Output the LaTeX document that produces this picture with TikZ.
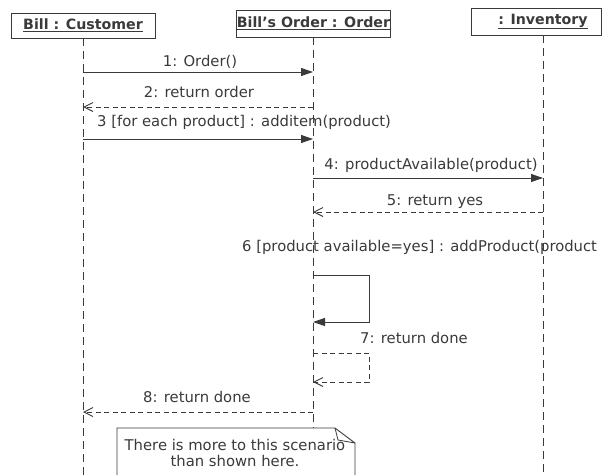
\documentclass[tikz,border=0pt]{standalone}
\usepackage{fontspec}
\setmainfont{DejaVu Sans}
\usetikzlibrary{arrows.meta}
\definecolor{ink}{HTML}{3A3A3A}
\begin{document}
\begin{tikzpicture}[x=1pt,y=-1pt,
  head/.style={draw=ink, line width=0.9pt, inner sep=0pt, text=ink,
    font=\bfseries\fontsize{14.2}{16}\selectfont},
  life/.style={draw=ink, line width=0.9pt, dash pattern=on 8pt off 5pt},
  call/.style={draw=ink, line width=0.9pt, -{Triangle[length=12pt,width=8pt]}},
  ret/.style={draw=ink, line width=0.8pt, dash pattern=on 5pt off 3.5pt,
    -{Straight Barb[length=9pt,width=9pt,line width=0.9pt]}},
  lbl/.style={font=\fontsize{14.8}{16}\selectfont, text=ink, inner sep=0pt},
  notebox/.style={draw=ink, line width=0.9pt, fill=white}
]
\useasboundingbox (0,0) rectangle (604,474);
\clip (0,0) rectangle (604,474);

% heads
\node[head, minimum width=144pt, minimum height=25pt] (cust) at (83,25.5) {\underline{Bill : Customer}};
\node[head, minimum width=153pt, minimum height=27pt] (ord) at (313.5,23.5) {\underline{Bill's Order : Order}};
\node[head, minimum width=130pt, minimum height=27pt] (inv) at (536,21.5) {\hspace*{14pt}\underline{: Inventory}};

% lifeline coordinates
\coordinate (cTop) at (83,38);
\coordinate (cEnd) at (83,480);
\coordinate (oTop) at (313,37);
\coordinate (iTop) at (543,35);
\coordinate (iEnd) at (543,480);

% note
\coordinate (nA) at (117,428);
\coordinate (nB) at (335,428);
\coordinate (nC) at (355,443);
\coordinate (nD) at (355,480);
\coordinate (nE) at (117,480);
\coordinate (nF) at (338,440);
\coordinate (oEnd) at (313,428);

\draw[life] (cTop) -- (cEnd);
\draw[life] (oTop) -- (oEnd);
\draw[life] (iTop) -- (iEnd);

% message points
\coordinate (c1) at (83,72);   \coordinate (o1) at (313,72);
\coordinate (c2) at (83,107);  \coordinate (o2) at (313,107);
\coordinate (c3) at (83,139);  \coordinate (o3) at (313,139);
\coordinate (o4) at (313,178); \coordinate (i4) at (543,178);
\coordinate (o5) at (313,212); \coordinate (i5) at (543,212);
\coordinate (o6) at (313,275); \coordinate (s6a) at (369,275);
\coordinate (s6b) at (369,322); \coordinate (o6b) at (313,322);
\coordinate (o7) at (313,353); \coordinate (s7a) at (369,353);
\coordinate (s7b) at (369,382); \coordinate (o7b) at (313,382);
\coordinate (o8) at (313,412); \coordinate (c8) at (83,412);

\draw[call] (c1) -- (o1);
\draw[ret] (o2) -- (c2);
\draw[call] (c3) -- (o3);
\draw[call] (o4) -- (i4);
\draw[ret] (i5) -- (o5);
\draw[call] (o6) -- (s6a) -- (s6b) -- (o6b);
\draw[ret] (o7) -- (s7a) -- (s7b) -- (o7b);
\draw[ret] (o8) -- (c8);

% labels
\node[lbl] (l1) at (200,62) {1: Order()};
\node[lbl] (l2) at (199,92) {2: return order};
\node[lbl, anchor=west] (l3) at (97,122) {3 [for each product] : additem(product)};
\node[lbl] (l4) at (431,165) {4: productAvailable(product)};
\node[lbl] (l5) at (435,202) {5: return yes};
\node[lbl, anchor=west] (l6) at (242,247) {6 [product available=yes] : addProduct(product};
\node[lbl] (l7) at (414,338) {7: return done};
\node[lbl] (l8) at (197,397) {8: return done};

% note
\draw[notebox] (nA) -- (nB) -- (nC) -- (nD) -- (nE) -- cycle;
\draw[draw=ink, line width=0.8pt] (nB) -- (nF) -- (nC);
\node[lbl, align=center] (nt) at (235,453) {There is more to this scenario\\than shown here.};
\end{tikzpicture}
\end{document}
